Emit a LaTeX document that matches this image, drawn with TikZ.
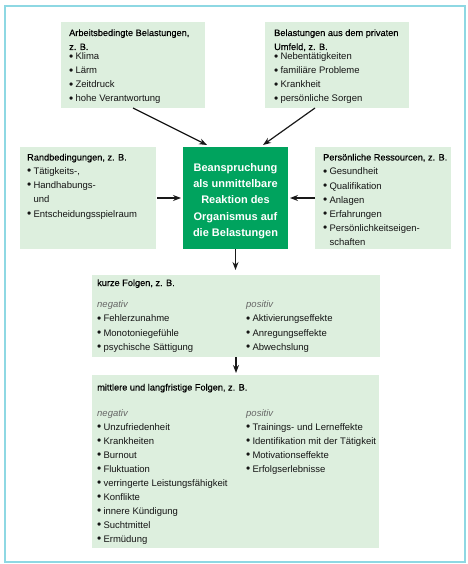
\documentclass[tikz,border=0pt]{standalone}
\usepackage{fontspec}
\setmainfont{Liberation Sans}
\usetikzlibrary{arrows.meta,calc}
\definecolor{framecol}{HTML}{8ED8E3}
\definecolor{boxfill}{HTML}{DDEFDE}
\definecolor{cgreen}{HTML}{00A35E}
\newcommand\bl{\makebox[6.3pt][l]{\raisebox{-0.2pt}{\scalebox{1.25}{•}}}}
\begin{document}
\begin{tikzpicture}[x=1pt,y=-1pt,
  box/.style={fill=boxfill, draw=none, anchor=north west, inner sep=0pt, outer sep=0pt},
  txt/.style={anchor=base west, inner sep=0pt, font=\fontsize{9.5}{14}\selectfont, text=black!92},
  head/.style={txt, font=\fontsize{9.2}{14}\selectfont\addfontfeature{FakeBold=0.25}, text=black},
  ital/.style={txt, font=\fontsize{9.5}{14}\selectfont\itshape, text=black!60},
  ctxt/.style={anchor=base, inner sep=0pt, font=\fontsize{11}{16}\selectfont\bfseries, text=white},
  arr/.style={-{Stealth[length=8pt,width=6pt]}, line width=1.2pt, black!90}]
\useasboundingbox (0,0) rectangle (467,564);
\draw[framecol, line width=2pt] (5,6) rectangle (465,562);
% boxes
\node[box, minimum width=144pt, minimum height=86pt] (A) at (61,22) {};
\node[box, minimum width=144pt, minimum height=86pt] (B) at (265,22) {};
\node[box, minimum width=136pt, minimum height=102pt] (R) at (20,147) {};
\node[box, fill=cgreen, minimum width=105pt, minimum height=102pt] (C) at (183,147) {};
\node[box, minimum width=136pt, minimum height=102pt] (P) at (315,147) {};
\node[box, minimum width=288pt, minimum height=82pt] (K) at (92,275) {};
\node[box, minimum width=287pt, minimum height=173pt] (M) at (92,375) {};
% box A
\node[head] (ah1) at (69,36) {Arbeitsbedingte Belastungen,};
\node[head] (ah2) at (69,50) {z. B.};
\foreach \t [count=\i] in {Klima,Lärm,Zeitdruck,hohe Verantwortung}
  \node[txt] (ai\i) at (69,46+14*\i) {\bl\t};
% box B
\node[head] (bh1) at (274,36) {Belastungen aus dem privaten};
\node[head] (bh2) at (274,50) {Umfeld, z. B.};
\foreach \t [count=\i] in {Nebentätigkeiten,familiäre Probleme,Krankheit,persönliche Sorgen}
  \node[txt] (bi\i) at (274,46+14*\i) {\bl\t};
% box R
\node[head] (rh) at (27,160.5) {Randbedingungen, z. B.};
\node[txt] (ri1) at (27,174.5) {\bl Tätigkeits-,};
\node[txt] (ri2) at (27,188.5) {\bl Handhabungs-};
\node[txt] (ri3) at (27,202.5) {\hspace*{6.3pt}und};
\node[txt] (ri4) at (27,217) {\bl Entscheidungsspielraum};
% box P
\node[head] (ph) at (323,160.5) {Persönliche Ressourcen, z. B.};
\foreach \t [count=\i] in {Gesundheit,Qualifikation,Anlagen,Erfahrungen,Persönlichkeitseigen-}
  \node[txt] (pi\i) at (323,161+14*\i) {\bl\t};
\node[txt] (pi6) at (323,245) {\hspace*{6.3pt}schaften};
% center
\foreach \t [count=\i] in {Beanspruchung,als unmittelbare,Reaktion des,Organismus auf,die Belastungen}
  \node[ctxt] (c\i) at (235.5,171.3+16.25*\i-16.25) {\t};
% box K
\node[head] (kh) at (97,286) {kurze Folgen, z. B.};
\node[ital] (kn) at (97,307.5) {negativ};
\node[ital] (kp) at (246,307.5) {positiv};
\foreach \t [count=\i] in {Fehlerzunahme,Monotoniegefühle,psychische Sättigung}
  \node[txt] (kn\i) at (97,307.5+14.3*\i) {\bl\t};
\foreach \t [count=\i] in {Aktivierungseffekte,Anregungseffekte,Abwechslung}
  \node[txt] (kp\i) at (246,307.5+14.3*\i) {\bl\t};
% box M
\node[head] (mh) at (97,390.5) {mittlere und langfristige Folgen, z. B.};
\node[ital] (mn) at (97,416) {negativ};
\node[ital] (mp) at (246,416) {positiv};
\foreach \t [count=\i] in {Unzufriedenheit,Krankheiten,Burnout,Fluktuation,verringerte Leistungsfähigkeit,Konflikte,innere Kündigung,Suchtmittel,Ermüdung}
  \node[txt] (mn\i) at (97,416+14*\i) {\bl\t};
\foreach \t [count=\i] in {Trainings- und Lerneffekte,Identifikation mit der Tätigkeit,Motivationseffekte,Erfolgserlebnisse}
  \node[txt] (mp\i) at (246,416+14*\i) {\bl\t};
% arrows
\draw[arr] (A.south) -- ($(C.north west)+(24,-2)$);
\draw[arr] ($(B.south west)+(50,0)$) -- ($(C.north east)+(-25,-2)$);
\draw[arr, shorten <=1pt, shorten >=2pt] (R.east) -- (C.west);
\draw[arr, shorten <=0pt, shorten >=2pt] (P.west) -- (C.east);
\draw[arr, shorten >=5pt] (C.south) -- (C.south |- K.north);
\draw[arr, shorten >=2pt] (K.south) -- (K.south |- M.north);
\end{tikzpicture}
\end{document}
